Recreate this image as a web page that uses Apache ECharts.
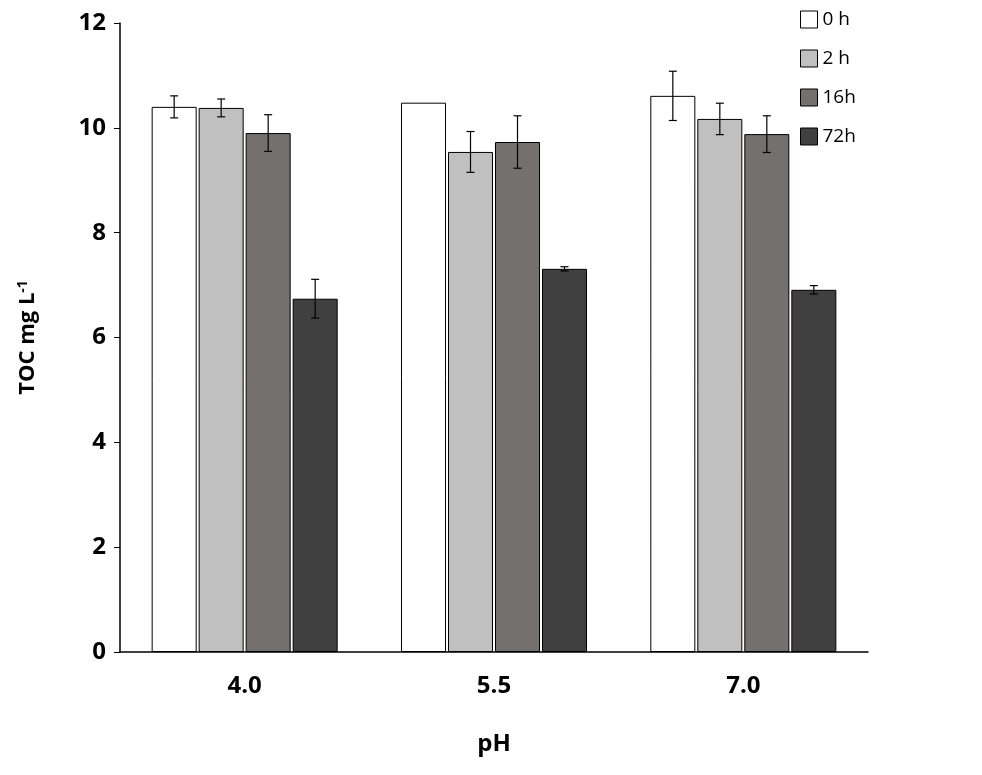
<!DOCTYPE html>
<html><head><meta charset="utf-8">
<script src="https://cdn.jsdelivr.net/npm/echarts@6/dist/echarts.min.js"></script>
<style>html,body{margin:0;background:#fff}#c{width:982px;height:775px}</style>
</head><body><div id="c"></div>
<script>
const categories = ['4.0', '5.5', '7.0'];
const seriesNames = ['0 h', '2 h', '16h', '72h'];
const colors = ['#ffffff', '#c0c0c0', '#757070', '#404040'];
const v0 = [10.40, 10.48, 10.61];
const v2 = [10.38, 9.54, 10.17];
const v16 = [9.90, 9.73, 9.88];
const v72 = [6.74, 7.31, 6.91];
const e0 = [0.21, 0, 0.47];
const e2 = [0.17, 0.39, 0.30];
const e16 = [0.35, 0.50, 0.35];
const e72 = [0.37, 0.04, 0.08];
const yTicks = [0, 2, 4, 6, 8, 10, 12];

const values = [v0, v2, v16, v72];
const errs = [e0, e2, e16, e72];
const BW = 45, GAP = 2;
const font = '"Open Sans", "Noto Sans", sans-serif';

const series = [];
values.forEach((vals, i) => {
  series.push({
    name: seriesNames[i], type: 'bar', data: vals, barWidth: BW, barGap: (GAP / BW * 100) + '%',
    itemStyle: { color: colors[i], borderColor: '#000', borderWidth: 1 }
  });
});
values.forEach((vals, i) => {
  series.push({
    type: 'custom', silent: true, z: 10,
    data: vals.map((v, k) => [k, v, errs[i][k]]),
    renderItem: function (params, api) {
      const c = api.value(0), v = api.value(1), e = api.value(2);
      if (!e) return null;
      const off = (i - 1.5) * (BW + GAP);
      const hi = api.coord([c, v + e]), lo = api.coord([c, v - e]);
      const x = hi[0] + off, w = 4;
      const st = { stroke: '#000', lineWidth: 1.2 };
      return { type: 'group', children: [
        { type: 'line', shape: { x1: x, y1: hi[1], x2: x, y2: lo[1] }, style: st },
        { type: 'line', shape: { x1: x - w, y1: hi[1], x2: x + w, y2: hi[1] }, style: st },
        { type: 'line', shape: { x1: x - w, y1: lo[1], x2: x + w, y2: lo[1] }, style: st }
      ]};
    }
  });
});

const chart = echarts.init(document.getElementById('c'));
chart.setOption({
  animation: false,
  textStyle: { fontFamily: font },
  grid: { left: 120, right: 114, top: 23, bottom: 123 },
  legend: {
    data: seriesNames, orient: 'vertical', left: 795, top: 5, itemWidth: 17, itemHeight: 17, itemGap: 20,
    icon: 'rect', textStyle: { fontSize: 19, color: '#000', fontFamily: font },
    itemStyle: { borderColor: '#000', borderWidth: 1 }
  },
  xAxis: {
    type: 'category', data: categories,
    axisLine: { lineStyle: { color: '#000', width: 1.5 } }, axisTick: { show: false },
    axisLabel: { fontSize: 24, fontWeight: 'bold', color: '#000', margin: 22 },
    name: 'pH', nameLocation: 'middle', nameGap: 80,
    nameTextStyle: { fontSize: 24, fontWeight: 'bold', color: '#000' }
  },
  yAxis: {
    type: 'value', min: 0, max: 12, interval: 2,
    splitLine: { show: false },
    axisLine: { show: true, lineStyle: { color: '#000', width: 1.5 } },
    axisTick: { show: true, inside: false, length: 6, lineStyle: { color: '#000' } },
    axisLabel: { fontSize: 24, fontWeight: 'bold', color: '#000', margin: 14,
      formatter: v => yTicks.includes(v) ? String(v) : '' },
    name: '{a|TOC mg L}{s|-1}', nameLocation: 'middle', nameGap: 80, nameRotate: 90,
    nameTextStyle: { rich: {
      a: { fontSize: 22, fontWeight: 'bold', color: '#000', fontFamily: font },
      s: { fontSize: 14, fontWeight: 'bold', color: '#000', fontFamily: font, verticalAlign: 'top', padding: [0, 0, 10, 0] }
    } }
  },
  series: series
});
</script></body></html>
